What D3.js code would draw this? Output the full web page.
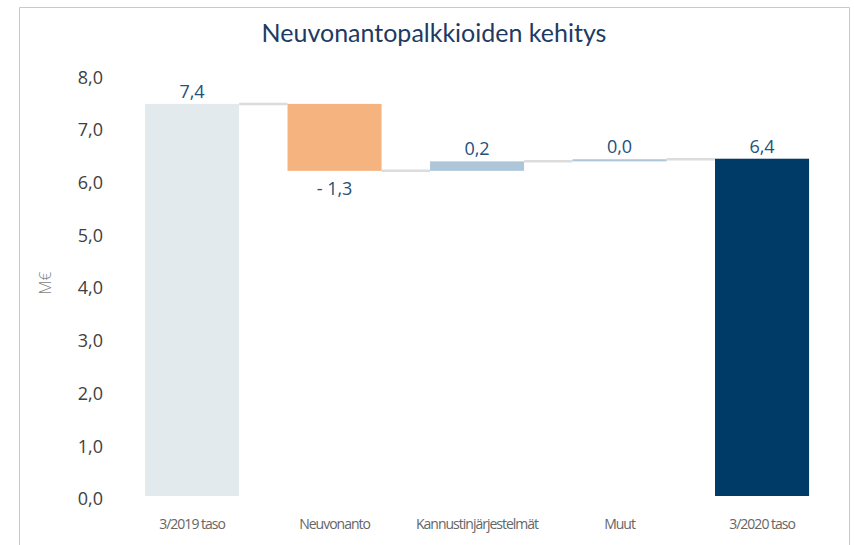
<!DOCTYPE html>
<html>
<head>
<meta charset="utf-8">
<script src="https://cdn.jsdelivr.net/npm/d3@7"></script>
<style>
  body { margin: 0; background: #fff; }
  svg { display: block; }
</style>
</head>
<body>
<svg id="chart" width="854" height="545"></svg>
<script>
const title = 'Neuvonantopalkkioiden kehitys';
const categories = ['3/2019 taso', 'Neuvonanto', 'Kannustinjärjestelmät', 'Muut', '3/2020 taso'];
const values = [7.44, -1.27, 0.18, 0.04, 6.40];
const kinds = ['total', 'delta', 'delta', 'delta', 'total'];
const colors = ['#e3eaee', '#f4b37f', '#adc7d9', '#adc7d9', '#003a66'];
const yTicks = [0, 1, 2, 3, 4, 5, 6, 7, 8];

const svg = d3.select('#chart');

// frame
svg.append('path')
  .attr('d', 'M19.5,545 V7.5 H849.5 V545')
  .attr('fill', 'none')
  .attr('stroke', '#c9c9c9')
  .attr('stroke-width', 1);

svg.append('text')
  .attr('x', 434)
  .attr('y', 42)
  .attr('text-anchor', 'middle')
  .style('font-family', 'Lato, sans-serif')
  .style('font-size', '25px')
  .style('fill', '#1d3b62')
  .text(title);

const x = d3.scaleBand()
  .domain(categories)
  .range([120.8, 833.3])
  .paddingInner(0.34)
  .paddingOuter(0.17);

const y = d3.scaleLinear().domain([0, 8]).range([496, 74.4]);

// running totals
let run = 0;
const bars = categories.map((c, i) => {
  let y0, y1;
  if (kinds[i] === 'total') {
    y0 = 0; y1 = values[i]; run = values[i];
  } else {
    y0 = run; y1 = run + values[i]; run = y1;
  }
  return { cat: c, v: values[i], y0, y1, end: run, kind: kinds[i], color: colors[i] };
});

// y axis
const yAxis = d3.axisLeft(y)
  .tickValues(yTicks)
  .tickSize(0)
  .tickPadding(0)
  .tickFormat(d => d3.format('.1f')(d).replace('.', ','));

const ya = svg.append('g')
  .attr('transform', 'translate(103,3)')
  .call(yAxis);
ya.select('.domain').remove();
ya.selectAll('text')
  .style('font-family', '"Open Sans", sans-serif')
  .style('font-size', '18px')
  .style('fill', '#404040');

svg.append('text')
  .attr('transform', 'translate(51,283) rotate(-90)')
  .attr('text-anchor', 'middle')
  .style('font-family', '"Open Sans", sans-serif')
  .style('font-size', '16px')
  .style('font-weight', 300)
  .style('fill', '#7f7f7f')
  .text('M€');

// connectors
svg.selectAll('.conn')
  .data(bars.slice(0, -1))
  .enter().append('line')
  .attr('class', 'conn')
  .attr('x1', d => x(d.cat) + x.bandwidth())
  .attr('x2', (d, i) => x(categories[i + 1]))
  .attr('y1', d => y(d.end))
  .attr('y2', d => y(d.end))
  .attr('stroke', '#dcdcdc')
  .attr('stroke-width', 2.5);

// bars
svg.selectAll('.bar')
  .data(bars)
  .enter().append('rect')
  .attr('class', 'bar')
  .attr('x', d => x(d.cat))
  .attr('width', x.bandwidth())
  .attr('y', d => y(Math.max(d.y0, d.y1)))
  .attr('height', d => Math.max(1.5, Math.abs(y(d.y0) - y(d.y1))))
  .attr('fill', d => d.color);

// value labels
const fmt = v => {
  const s = d3.format('.1f')(Math.abs(v)).replace('.', ',');
  return v < -0.05 ? '- ' + s : s;
};
svg.selectAll('.val')
  .data(bars)
  .enter().append('text')
  .attr('class', 'val')
  .attr('x', d => x(d.cat) + x.bandwidth() / 2)
  .attr('y', d => d.v < 0 ? y(Math.min(d.y0, d.y1)) + 24 : y(Math.max(d.y0, d.y1)) - 6)
  .attr('text-anchor', 'middle')
  .style('font-family', '"Open Sans", sans-serif')
  .style('font-size', '18px')
  .style('fill', '#24507c')
  .text(d => fmt(d.v));

// x axis labels
const xAxis = d3.axisBottom(x).tickSize(0).tickPadding(0);
const xa = svg.append('g')
  .attr('transform', 'translate(0,519)')
  .call(xAxis);
xa.select('.domain').remove();
xa.selectAll('text')
  .attr('dy', '0.71em')
  .style('font-family', '"Open Sans", sans-serif')
  .style('font-size', '14px')
  .style('letter-spacing', '-1px')
  .style('fill', '#666666');
</script>
</body>
</html>
